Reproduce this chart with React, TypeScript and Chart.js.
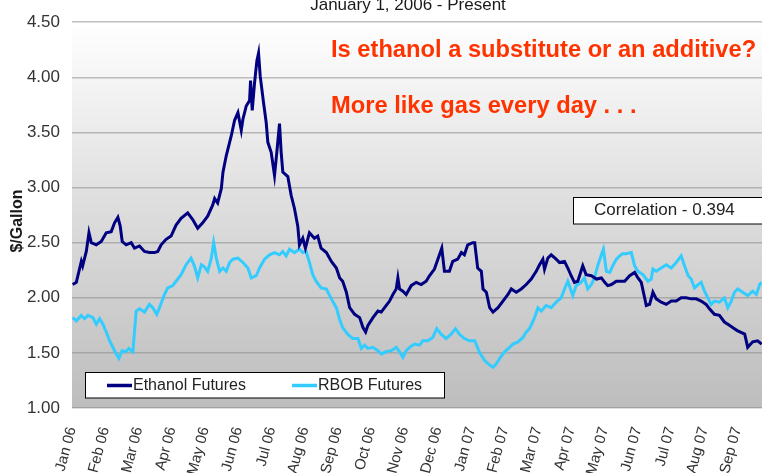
import React, { useEffect, useRef } from 'react';
import { Chart, registerables } from 'chart.js';

Chart.register(...registerables);

const monthLabels = [
  'Jan 06', 'Feb 06', 'Mar 06', 'Apr 06', 'May 06', 'Jun 06', 'Jul 06', 'Aug 06', 'Sep 06', 'Oct 06',
  'Nov 06', 'Dec 06', 'Jan 07', 'Feb 07', 'Mar 07', 'Apr 07', 'May 07', 'Jun 07', 'Jul 07', 'Aug 07', 'Sep 07',
];

// x = months since Jan 1, 2006
const ethanolMonths = [
  0.02, 0.13, 0.28, 0.32, 0.43, 0.51, 0.58, 0.73, 0.88, 1.03, 1.18, 1.28, 1.38, 1.45, 1.51, 1.63, 1.78, 1.88,
  2.03, 2.18, 2.33, 2.48, 2.58, 2.68, 2.83, 2.98, 3.13, 3.28, 3.48, 3.63, 3.78, 3.93, 4.08, 4.23, 4.29, 4.38,
  4.49, 4.54, 4.64, 4.79, 4.89, 4.99, 5.09, 5.14, 5.24, 5.34, 5.37, 5.42, 5.49, 5.56, 5.61, 5.66, 5.76, 5.84,
  5.89, 5.99, 6.09, 6.16, 6.24, 6.29, 6.34, 6.49, 6.59, 6.69, 6.79, 6.84, 6.94, 7.02, 7.14, 7.29, 7.39, 7.49,
  7.65, 7.80, 7.95, 8.05, 8.14, 8.25, 8.35, 8.50, 8.65, 8.75, 8.83, 8.90, 9.05, 9.20, 9.30, 9.40, 9.55, 9.65,
  9.75, 9.80, 9.85, 9.95, 10.05, 10.20, 10.35, 10.50, 10.65, 10.75, 10.90, 11.05, 11.12, 11.20, 11.35, 11.45,
  11.60, 11.71, 11.80, 11.90, 12.05, 12.11, 12.20, 12.31, 12.36, 12.46, 12.56, 12.66, 12.81, 12.96, 13.11,
  13.21, 13.36, 13.51, 13.66, 13.81, 13.96, 14.06, 14.16, 14.21, 14.31, 14.41, 14.56, 14.66, 14.81, 14.91,
  15.01, 15.11, 15.21, 15.36, 15.46, 15.62, 15.77, 15.92, 16.02, 16.11, 16.22, 16.37, 16.52, 16.62, 16.77,
  16.92, 17.02, 17.12, 17.22, 17.27, 17.37, 17.47, 17.57, 17.72, 17.87, 18.02, 18.17, 18.32, 18.47, 18.62,
  18.77, 18.92, 19.07, 19.17, 19.32, 19.47, 19.62, 19.77, 19.92, 20.02, 20.23, 20.32, 20.47, 20.62, 20.74,
];
const ethanolPrices = [
  2.12, 2.14, 2.33, 2.29, 2.42, 2.59, 2.50, 2.48, 2.51, 2.59, 2.60, 2.68, 2.73, 2.65, 2.51, 2.48, 2.50, 2.45,
  2.47, 2.42, 2.41, 2.41, 2.42, 2.48, 2.53, 2.56, 2.66, 2.72, 2.77, 2.71, 2.63, 2.68, 2.74, 2.84, 2.90, 2.86,
  2.99, 3.14, 3.29, 3.47, 3.61, 3.68, 3.52, 3.62, 3.74, 3.79, 3.97, 3.70, 3.95, 4.15, 4.22, 4.01, 3.77, 3.59,
  3.41, 3.32, 3.11, 3.32, 3.58, 3.32, 3.14, 3.10, 2.93, 2.81, 2.65, 2.48, 2.54, 2.45, 2.59, 2.54, 2.56, 2.45,
  2.41, 2.33, 2.27, 2.18, 2.15, 2.05, 1.91, 1.85, 1.82, 1.73, 1.69, 1.75, 1.82, 1.88, 1.87, 1.91, 1.97, 2.03,
  2.08, 2.18, 2.08, 2.06, 2.03, 2.11, 2.14, 2.12, 2.15, 2.20, 2.26, 2.39, 2.45, 2.24, 2.24, 2.33,
  2.35, 2.41, 2.39, 2.48, 2.50, 2.50, 2.27, 2.24, 2.08, 2.05, 1.91, 1.87, 1.91, 1.97, 2.03,
  2.08, 2.05, 2.08, 2.12, 2.17, 2.24, 2.30, 2.35, 2.26, 2.36, 2.39, 2.35, 2.32, 2.33, 2.27,
  2.20, 2.14, 2.15, 2.29, 2.21, 2.20, 2.17, 2.18, 2.14, 2.11, 2.12, 2.15, 2.15, 2.15, 2.20,
  2.23, 2.18, 2.14, 2.00, 1.93, 1.94, 2.05, 1.99, 1.96, 1.94, 1.97, 1.97, 2.00, 2.00, 1.99,
  1.99, 1.97, 1.94, 1.90, 1.85, 1.84, 1.78, 1.75, 1.72, 1.70, 1.67, 1.55, 1.60, 1.61, 1.58,
];

const rbobMonths = [
  0.02, 0.13, 0.28, 0.38, 0.48, 0.63, 0.73, 0.83, 0.93, 1.03, 1.13, 1.28, 1.41, 1.51, 1.61, 1.71, 1.83, 1.93,
  2.03, 2.18, 2.33, 2.43, 2.55, 2.63, 2.78, 2.88, 3.03, 3.13, 3.28, 3.43, 3.58, 3.68, 3.78, 3.89, 3.98, 4.08,
  4.19, 4.26, 4.34, 4.44, 4.54, 4.64, 4.74, 4.84, 4.99, 5.14, 5.29, 5.39, 5.54, 5.64, 5.79, 5.94, 6.09, 6.24,
  6.34, 6.44, 6.54, 6.69, 6.84, 6.94, 7.04, 7.14, 7.24, 7.34, 7.49, 7.65, 7.80, 7.95, 8.05, 8.14, 8.29, 8.44,
  8.60, 8.70, 8.80, 8.90, 9.05, 9.20, 9.30, 9.45, 9.60, 9.75, 9.85, 9.95, 10.05, 10.15, 10.30, 10.45, 10.55,
  10.70, 10.85, 10.97, 11.10, 11.25, 11.40, 11.53, 11.65, 11.80, 11.95, 12.11, 12.26, 12.41, 12.56, 12.66,
  12.76, 12.86, 13.01, 13.16, 13.26, 13.41, 13.56, 13.66, 13.76, 13.91, 14.01, 14.11, 14.26, 14.41, 14.56,
  14.71, 14.81, 14.91, 15.06, 15.16, 15.31, 15.41, 15.51, 15.62, 15.71, 15.81, 15.92, 15.98, 16.07, 16.17,
  16.26, 16.37, 16.47, 16.56, 16.67, 16.82, 16.92, 17.02, 17.17, 17.32, 17.42, 17.47, 17.57, 17.72, 17.87,
  18.02, 18.17, 18.32, 18.42, 18.53, 18.62, 18.72, 18.83, 18.92, 19.02, 19.12, 19.22, 19.32, 19.47, 19.62,
  19.72, 19.83, 19.92, 20.02, 20.17, 20.32, 20.47, 20.58, 20.68, 20.74,
];
const rbobPrices = [
  1.82, 1.79, 1.84, 1.81, 1.84, 1.82, 1.76, 1.81, 1.76, 1.69, 1.61, 1.52, 1.45, 1.52, 1.51, 1.54, 1.51, 1.88,
  1.90, 1.87, 1.94, 1.91, 1.85, 1.91, 2.03, 2.09, 2.11, 2.15, 2.21, 2.30, 2.36, 2.29, 2.18, 2.30, 2.28, 2.24,
  2.36, 2.50, 2.36, 2.24, 2.27, 2.24, 2.32, 2.35, 2.36, 2.32, 2.27, 2.18, 2.20, 2.27, 2.35, 2.39, 2.41, 2.39,
  2.42, 2.38, 2.44, 2.41, 2.44, 2.41, 2.42, 2.32, 2.21, 2.15, 2.09, 2.08, 1.99, 1.91, 1.80, 1.73, 1.67, 1.63,
  1.63, 1.54, 1.57, 1.54, 1.55, 1.52, 1.49, 1.51, 1.52, 1.55, 1.51, 1.46, 1.52, 1.55, 1.58, 1.57, 1.61,
  1.61, 1.64, 1.72, 1.67, 1.63, 1.67, 1.72, 1.67, 1.63, 1.61, 1.61, 1.50, 1.43, 1.39, 1.37,
  1.40, 1.45, 1.51, 1.55, 1.58, 1.60, 1.64, 1.69, 1.72, 1.82, 1.91, 1.88, 1.93, 1.91, 1.96,
  2.00, 2.08, 2.15, 2.02, 2.11, 2.14, 2.18, 2.08, 2.12, 2.18, 2.29, 2.39, 2.44, 2.24, 2.23,
  2.29, 2.35, 2.38, 2.40, 2.40, 2.41, 2.29, 2.24, 2.21, 2.15, 2.17, 2.26, 2.24, 2.27, 2.30,
  2.27, 2.32, 2.38, 2.29, 2.20, 2.17, 2.09, 2.12, 2.14, 2.06, 2.00, 1.94, 1.97, 1.96, 2.00,
  1.91, 1.97, 2.05, 2.08, 2.05, 2.02, 2.06, 2.03, 2.12, 2.14,
];

const seriesNames = ['Ethanol Futures', 'RBOB Futures'];
const seriesColors = ['#000080', '#33CCFF'];
const chartTitle = 'January 1, 2006 - Present';
const yAxisTitle = '$/Gallon';
const headline1 = 'Is ethanol a substitute or an additive?';
const headline2 = 'More like gas every day . . .';
const correlationText = 'Correlation - 0.394';

const FONT = '"Liberation Sans", Arial, Helvetica, sans-serif';

const decorPlugin = {
  id: 'decor',
  beforeDraw(chart: any) {
    const { ctx, chartArea } = chart;
    const { left, right, top, bottom } = chartArea;
    ctx.save();
    const g = ctx.createLinearGradient(0, top, 0, bottom);
    g.addColorStop(0, '#ffffff');
    g.addColorStop(0.5, '#dcdcdc');
    g.addColorStop(1, '#bdbdbd');
    ctx.fillStyle = g;
    ctx.fillRect(left, top, right - left, bottom - top);
    ctx.restore();
  },
  afterDatasetsDraw(chart: any) {
    const { ctx, chartArea } = chart;
    const { left, top, bottom } = chartArea;
    ctx.save();
    // title (partly cut by the top edge)
    ctx.fillStyle = '#1a1a1a';
    ctx.font = `17px ${FONT}`;
    ctx.textAlign = 'center';
    ctx.textBaseline = 'alphabetic';
    ctx.fillText(chartTitle, 408, 10);

    // y axis title
    ctx.save();
    ctx.translate(17.5, 221);
    ctx.rotate(-Math.PI / 2);
    ctx.font = `bold 16px ${FONT}`;
    ctx.fillStyle = '#1a1a1a';
    ctx.textAlign = 'center';
    ctx.textBaseline = 'middle';
    ctx.fillText(yAxisTitle, 0, 0);
    ctx.restore();

    // headlines
    ctx.fillStyle = '#FF3300';
    ctx.font = `bold 23.7px ${FONT}`;
    ctx.textAlign = 'left';
    ctx.fillText(headline1, 331, 57);
    ctx.fillText(headline2, 331, 113);

    // correlation box
    ctx.fillStyle = '#ffffff';
    ctx.strokeStyle = '#000000';
    ctx.lineWidth = 1;
    ctx.fillRect(573.5, 197.5, 200, 26.5);
    ctx.strokeRect(573.5, 197.5, 200, 26.5);
    ctx.fillStyle = '#222222';
    ctx.font = `17px ${FONT}`;
    ctx.textAlign = 'left';
    ctx.fillText(correlationText, 594, 215);

    // legend
    const lx = left + 13.5;
    const ly = bottom - 35.5;
    ctx.fillStyle = '#ffffff';
    ctx.fillRect(lx, ly, 359, 25.5);
    ctx.strokeRect(lx, ly, 359, 25.5);
    const swX = [107, 292];
    const txX = [133, 318];
    const swY = ly + 13;
    ctx.font = `16px ${FONT}`;
    ctx.textBaseline = 'middle';
    for (let i = 0; i < 2; i++) {
      ctx.strokeStyle = seriesColors[i];
      ctx.lineWidth = 3.5;
      ctx.beginPath();
      ctx.moveTo(swX[i], swY);
      ctx.lineTo(swX[i] + 25, swY);
      ctx.stroke();
      ctx.fillStyle = '#222222';
      ctx.fillText(seriesNames[i], txX[i], swY + 0.5);
    }
    ctx.restore();
  },
};

export default function App() {
  const canvasRef = useRef<HTMLCanvasElement | null>(null);

  useEffect(() => {
    const canvas = canvasRef.current;
    if (!canvas) return;
    const chart = new Chart(canvas, {
      type: 'line',
      data: {
        datasets: [
          {
            label: seriesNames[0],
            data: ethanolMonths.map((m, i) => ({ x: m, y: ethanolPrices[i] })),
            borderColor: seriesColors[0],
            borderWidth: 3,
            pointRadius: 0,
            tension: 0,
            fill: false,
          },
          {
            label: seriesNames[1],
            data: rbobMonths.map((m, i) => ({ x: m, y: rbobPrices[i] })),
            borderColor: seriesColors[1],
            borderWidth: 3,
            pointRadius: 0,
            tension: 0,
            fill: false,
          },
        ],
      },
      options: {
        animation: false,
        responsive: false,
        maintainAspectRatio: false,
        layout: { padding: { top: 19, right: 0, left: 0, bottom: 0 } },
        plugins: {
          legend: { display: false },
          tooltip: { enabled: false },
          title: { display: false },
        },
        scales: {
          x: {
            type: 'linear',
            min: 0,
            max: 20.75,
            grid: { display: false, drawTicks: false },
            border: { display: false },
            afterBuildTicks: (scale: any) => {
              scale.ticks = monthLabels.map((_, i) => ({ value: i }));
            },
            afterFit: (scale: any) => {
              scale.height = 65;
              scale.paddingLeft = 0;
              scale.paddingRight = 0;
            },
            ticks: {
              autoSkip: false,
              minRotation: 75,
              maxRotation: 75,
              padding: 17,
              color: '#333333',
              font: { family: FONT, size: 15 },
              callback: (v: any) => monthLabels[Math.round(Number(v))] ?? '',
            },
          },
          y: {
            type: 'linear',
            min: 1,
            max: 4.5,
            grid: { color: 'rgba(140,140,140,0.55)', lineWidth: 1.5, drawTicks: false },
            border: { display: false },
            afterFit: (scale: any) => {
              scale.width = 72;
            },
            ticks: {
              stepSize: 0.5,
              padding: 12,
              color: '#333333',
              font: { family: FONT, size: 17 },
              callback: (v: any) => Number(v).toFixed(2),
            },
          },
        },
      },
      plugins: [decorPlugin],
    });
    return () => chart.destroy();
  }, []);

  return (
    <div style={{ position: 'fixed', left: 0, top: 0, width: 762, height: 473, background: '#ffffff' }}>
      <canvas ref={canvasRef} width={762} height={473} style={{ width: 762, height: 473, display: 'block' }} />
    </div>
  );
}
